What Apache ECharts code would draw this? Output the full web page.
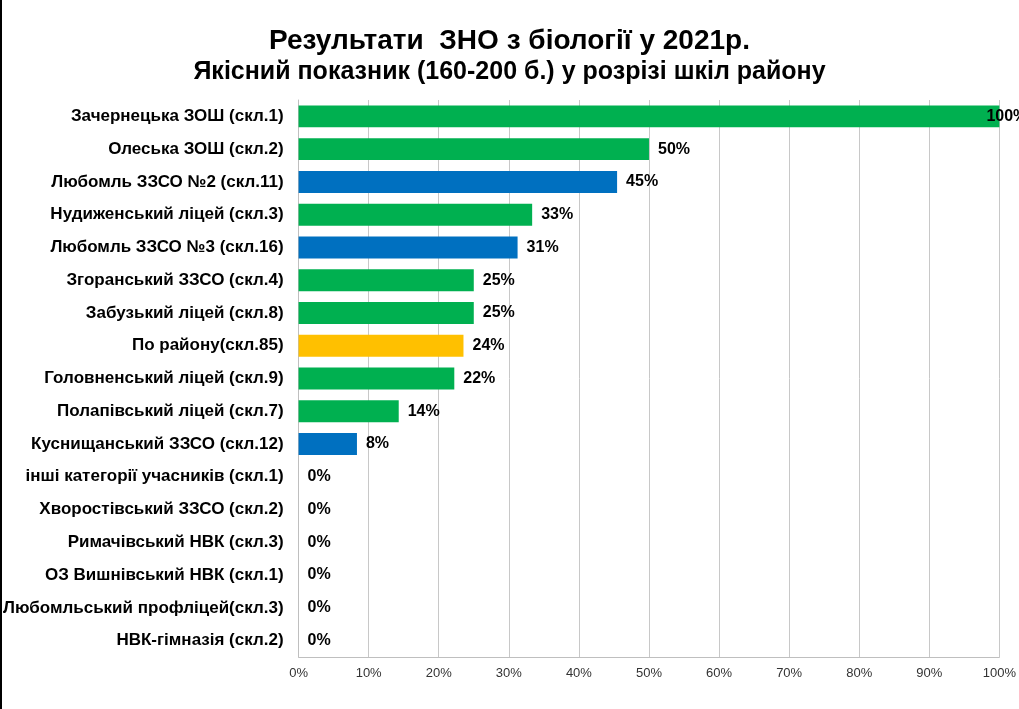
<!DOCTYPE html>
<html>
<head>
<meta charset="utf-8">
<script src="https://cdn.jsdelivr.net/npm/echarts@6/dist/echarts.min.js"></script>
<style>
html,body{margin:0;padding:0;background:#fff;}
#c{width:1019px;height:709px;}
</style>
</head>
<body>
<div id="c"></div>
<script>
const titleLine1 = 'Результати  ЗНО з біології у 2021р.';
const titleLine2 = 'Якісний показник (160-200 б.) у розрізі шкіл району';
const categories = [
  'Зачернецька ЗОШ (скл.1)',
  'Олеська ЗОШ (скл.2)',
  'Любомль ЗЗСО №2 (скл.11)',
  'Нудиженський ліцей (скл.3)',
  'Любомль ЗЗСО №3 (скл.16)',
  'Згоранський ЗЗСО (скл.4)',
  'Забузький ліцей (скл.8)',
  'По району(скл.85)',
  'Головненський ліцей (скл.9)',
  'Полапівський ліцей (скл.7)',
  'Куснищанський ЗЗСО (скл.12)',
  'інші категорії учасників (скл.1)',
  'Хворостівський ЗЗСО (скл.2)',
  'Римачівський НВК (скл.3)',
  'ОЗ Вишнівський НВК (скл.1)',
  'Любомльський профліцей(скл.3)',
  'НВК-гімназія (скл.2)'
];
const values = [100, 50, 45.45, 33.33, 31.25, 25, 25, 23.53, 22.22, 14.29, 8.33, 0, 0, 0, 0, 0, 0];
const groups = ['school','school','city','school','city','school','school','district','school','school','city','school','school','school','school','school','school'];
const xTicks = [0, 10, 20, 30, 40, 50, 60, 70, 80, 90, 100];

const groupColors = { school: '#00B050', city: '#0070C0', district: '#FFC000' };

const chart = echarts.init(document.getElementById('c'));
chart.setOption({
  backgroundColor: '#ffffff',
  animation: false,
  title: [
    { text: titleLine1, left: 'center', top: 22, textStyle: { fontFamily: 'Liberation Sans', fontWeight: 'bold', fontSize: 28, color: '#000' } },
    { text: titleLine2, left: 'center', top: 55, textStyle: { fontFamily: 'Liberation Sans', fontWeight: 'bold', fontSize: 25, color: '#000' } }
  ],
  grid: { left: 296, right: 18, top: 100, bottom: 52, containLabel: false },
  xAxis: {
    type: 'value', min: 0, max: 100, interval: 10,
    axisLine: { show: true, lineStyle: { color: '#bfbfbf' } },
    axisTick: { show: false },
    splitLine: { show: true, lineStyle: { color: '#c8c8c8', width: 1 } },
    axisLabel: { formatter: v => xTicks.includes(v) ? v + '%' : '', fontFamily: 'Liberation Sans', fontSize: 13, color: '#333', margin: 10 }
  },
  yAxis: {
    type: 'category', data: categories, inverse: true,
    axisLine: { show: true, lineStyle: { color: '#bfbfbf' } },
    axisTick: { show: false },
    axisLabel: { fontFamily: 'Liberation Sans', fontWeight: 'bold', fontSize: 17, color: '#000', margin: 15 }
  },
  series: [{
    type: 'bar',
    barWidth: '67%',
    data: values.map((v, i) => {
      const item = { value: v, itemStyle: { color: groupColors[groups[i]] } };
      if (v >= 100) item.label = { offset: [-22, 0] };
      return item;
    }),
    label: {
      show: true, position: 'right', distance: 9,
      formatter: p => Math.round(p.value) + '%',
      fontFamily: 'Liberation Sans', fontWeight: 'bold', fontSize: 16, color: '#000'
    }
  }],
  graphic: [
    { type: 'rect', shape: { x: 0, y: 0, width: 2, height: 709 }, style: { fill: '#000' } }
  ]
});
</script>
</body>
</html>
